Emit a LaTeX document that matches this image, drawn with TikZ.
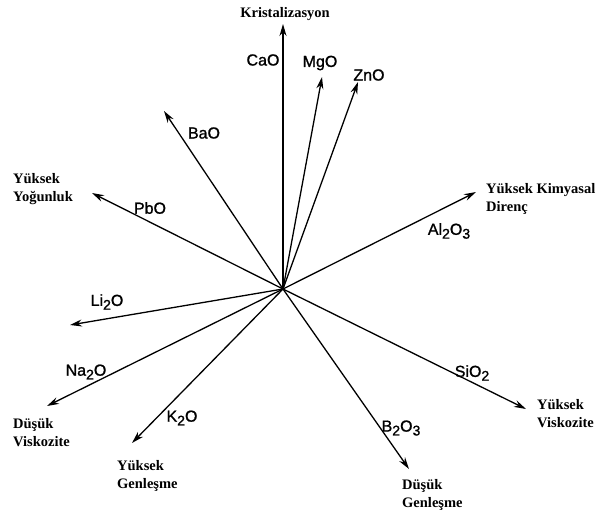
\documentclass[tikz,border=0pt]{standalone}
\usepackage{fontspec}
\setmainfont{Liberation Serif}
\newfontfamily\oxfont[FakeBold=1.2]{Liberation Sans}
\usetikzlibrary{arrows.meta}
\newcommand{\lowidx}[1]{\raisebox{-0.45ex}{\fontsize{14}{14}\selectfont #1}}
\begin{document}
\begin{tikzpicture}[x=1pt,y=-1pt,
  vec/.style={line width=1.3pt,-{Stealth[length=12pt,width=7pt]}},
  ox/.style={font=\oxfont\fontsize{16}{16}\selectfont,inner sep=0pt},
  eff/.style={font=\bfseries\fontsize{14.5}{18}\selectfont,inner sep=0pt,align=left}]
\useasboundingbox (0,0) rectangle (596,514);
\coordinate (o) at (283,289);
\coordinate (tCa) at (283,24);
\coordinate (tMg) at (322,77);
\coordinate (tZn) at (358,82);
\coordinate (tBa) at (164,111);
\coordinate (tPb) at (92,193);
\coordinate (tAl) at (476,192);
\coordinate (tLi) at (70,325);
\coordinate (tNa) at (47,406);
\coordinate (tK) at (132,443);
\coordinate (tSi) at (526,409);
\coordinate (tB) at (409,469);
\foreach \t in {tCa,tMg,tZn,tBa,tPb,tAl,tLi,tNa,tK,tSi,tB}
  \draw[vec] (o) -- (\t);
\node[ox] (CaO) at (263,60) {CaO};
\node[ox] (MgO) at (320,63) {MgO};
\node[ox] (ZnO) at (369,75) {ZnO};
\node[ox] (BaO) at (204,133) {BaO};
\node[ox] (PbO) at (150,208) {PbO};
\node[ox] (AlO) at (449,231) {Al\lowidx{2}O\lowidx{3}};
\node[ox] (LiO) at (107,302) {Li\lowidx{2}O};
\node[ox] (NaO) at (86,372) {Na\lowidx{2}O};
\node[ox] (KO) at (182,418) {K\lowidx{2}O};
\node[ox] (SiO) at (472,373) {SiO\lowidx{2}};
\node[ox] (BO) at (401,428) {B\lowidx{2}O\lowidx{3}};
\node[eff] (kri) at (285,14) {Kristalizasyon};
\node[eff,anchor=west] (yog) at (13,189) {Yüksek\\Yoğunluk};
\node[eff,anchor=west] (kim) at (486,199) {Yüksek Kimyasal\\Direnç};
\node[eff,anchor=west] (dvi) at (13,433) {Düşük\\Viskozite};
\node[eff,anchor=west] (ygn) at (117,476) {Yüksek\\Genleşme};
\node[eff,anchor=west] (yvi) at (537,414) {Yüksek\\Viskozite};
\node[eff,anchor=west] (dgn) at (402,495) {Düşük\\Genleşme};
\end{tikzpicture}
\end{document}
